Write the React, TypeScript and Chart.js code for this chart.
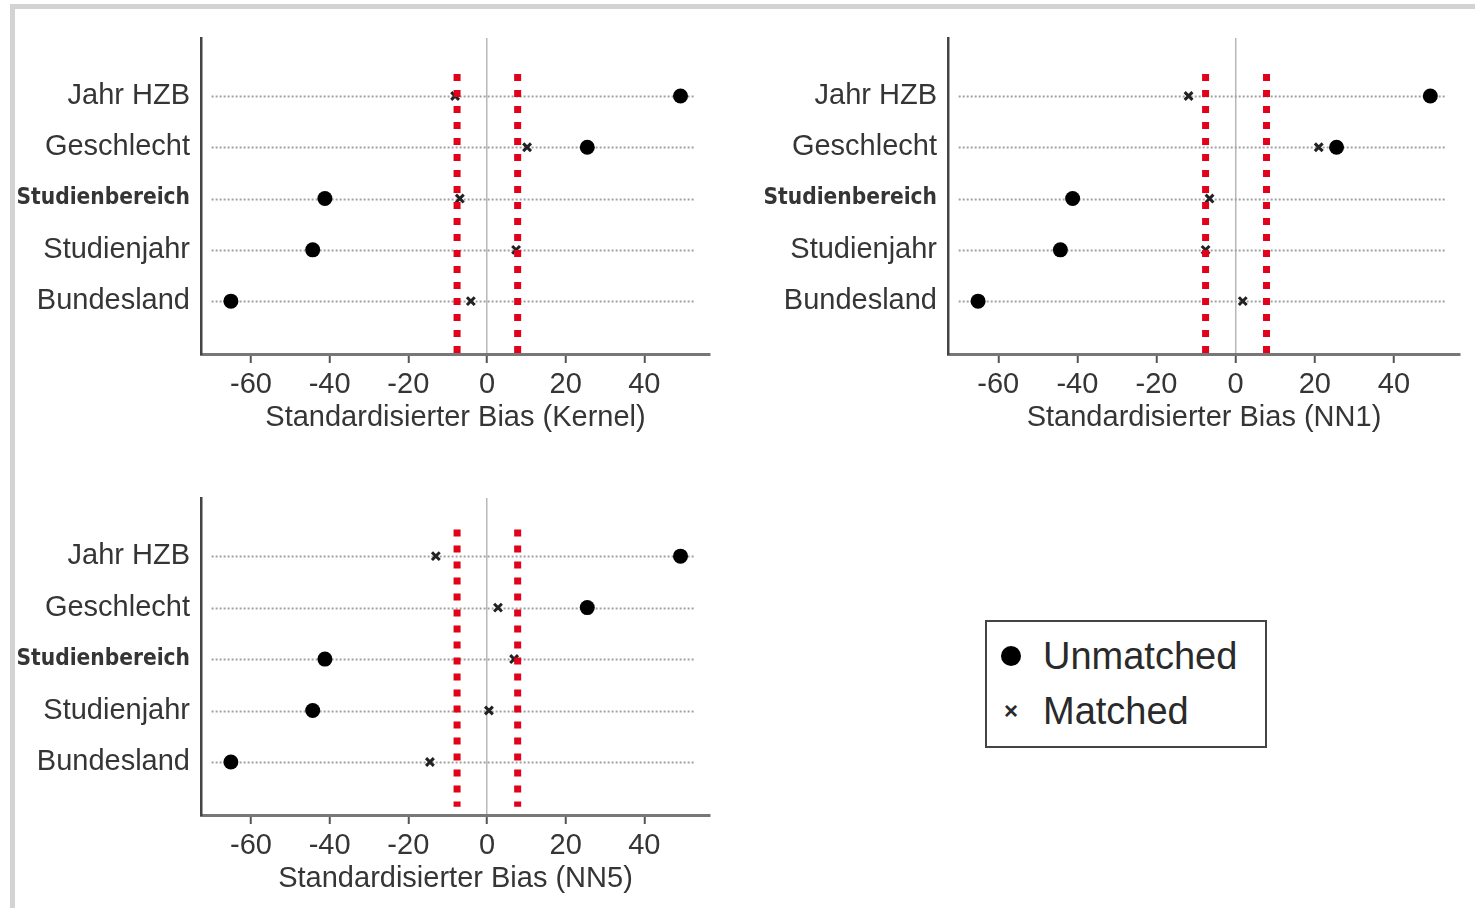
import React, { useEffect, useRef } from 'react';
import { Chart, registerables } from 'chart.js';

Chart.register(...registerables);

const categories = ['Jahr HZB', 'Geschlecht', 'Studienbereich', 'Studienjahr', 'Bundesland'];
const unmatchedBias = [49.2, 25.5, -41.2, -44.3, -65.1];
const matchedKernel = [-8.1, 10.2, -6.9, 7.4, -4.1];
const matchedNN1 = [-11.9, 21.0, -6.6, -7.6, 1.8];
const matchedNN5 = [-13.0, 2.8, 6.9, 0.5, -14.5];
const thresholds = [-7.6, 7.8];
const xTickValues = [-60, -40, -20, 0, 20, 40];
const guideRange = [-70, 53];
const legendLabels = ['Unmatched', 'Matched'];
const axisTitles = ['Standardisierter Bias (Kernel)', 'Standardisierter Bias (NN1)', 'Standardisierter Bias (NN5)'];

const FONT = '"Liberation Sans", Arial, Helvetica, sans-serif';
const TEXT = '#353535';

type Panel = {
  title: string;
  matched: number[];
  left: number;
  top: number;
  right: number;
  bottom: number;
  redTop: number;
  redBottom: number | null;
};

const panels: Panel[] = [
  { title: axisTitles[0], matched: matchedKernel, left: 201, top: 38, right: 710, bottom: 354, redTop: -0.43, redBottom: null },
  { title: axisTitles[1], matched: matchedNN1, left: 948, top: 38, right: 1460, bottom: 354, redTop: -0.43, redBottom: null },
  { title: axisTitles[2], matched: matchedNN5, left: 201, top: 498, right: 710, bottom: 815, redTop: -0.52, redBottom: 4.87 },
];

const PAD_LEFT = 200;
const PAD_TOP = 30;
const PAD_RIGHT = 12;
const X_AXIS_H = 81;

function PanelChart({ p }: { p: Panel }) {
  const ref = useRef<HTMLCanvasElement | null>(null);
  const w = p.right - p.left + PAD_LEFT + PAD_RIGHT;
  const h = p.bottom - p.top + PAD_TOP + X_AXIS_H;

  useEffect(() => {
    if (!ref.current) return;
    const overlay = {
      id: 'overlay',
      beforeDatasetsDraw(chart: any) {
        const { ctx, scales } = chart;
        const x = scales.x;
        const y = scales.y;
        ctx.save();
        ctx.strokeStyle = '#a0a0a0';
        ctx.lineWidth = 2;
        ctx.setLineDash([2, 2]);
        categories.forEach((_, i) => {
          const py = Math.round(y.getPixelForValue(i)) + 0.5;
          ctx.beginPath();
          ctx.moveTo(x.getPixelForValue(guideRange[0]), py);
          ctx.lineTo(x.getPixelForValue(guideRange[1]), py);
          ctx.stroke();
        });
        ctx.restore();
      },
      afterDatasetsDraw(chart: any) {
        const { ctx, scales, chartArea } = chart;
        const x = scales.x;
        const y = scales.y;
        ctx.save();
        ctx.strokeStyle = '#e2001a';
        ctx.lineWidth = 7;
        ctx.setLineDash([7, 9]);
        const y0 = y.getPixelForValue(p.redTop);
        const y1 = p.redBottom === null ? chartArea.bottom : y.getPixelForValue(p.redBottom);
        thresholds.forEach((t) => {
          const px = x.getPixelForValue(t);
          ctx.beginPath();
          ctx.moveTo(px, y0);
          ctx.lineTo(px, y1);
          ctx.stroke();
        });
        ctx.restore();
      },
    };

    const chart = new Chart(ref.current, {
      type: 'scatter',
      data: {
        datasets: [
          {
            label: legendLabels[0],
            data: unmatchedBias.map((v, i) => ({ x: v, y: i })),
            pointStyle: 'circle',
            pointRadius: 7.5,
            backgroundColor: '#000',
            borderColor: '#000',
            borderWidth: 0,
          },
          {
            label: legendLabels[1],
            data: p.matched.map((v, i) => ({ x: v, y: i })),
            pointStyle: 'crossRot',
            pointRadius: 5.5,
            borderWidth: 3,
            borderColor: '#222',
            backgroundColor: '#222',
          },
        ],
      },
      options: {
        animation: false,
        responsive: false,
        maintainAspectRatio: false,
        events: [],
        layout: { padding: { top: PAD_TOP, right: PAD_RIGHT, left: 0, bottom: 0 } },
        plugins: { legend: { display: false }, tooltip: { enabled: false } },
        scales: {
          x: {
            type: 'linear',
            min: -72.7,
            max: 56.7,
            afterBuildTicks: (s: any) => {
              s.ticks = xTickValues.map((v) => ({ value: v }));
            },
            afterFit: (s: any) => {
              s.height = X_AXIS_H;
            },
            grid: {
              display: true,
              drawOnChartArea: true,
              drawTicks: true,
              tickLength: 9,
              tickWidth: 2,
              tickColor: '#555',
              lineWidth: 1.5,
              color: (c: any) => (c.tick && c.tick.value === 0 ? '#b8b8b8' : 'rgba(0,0,0,0)'),
            },
            border: { display: true, color: '#777', width: 3 },
            ticks: {
              color: TEXT,
              padding: 5,
              font: { family: FONT, size: 29 },
              callback: (v: any) => String(v),
              maxRotation: 0,
            },
            title: {
              display: true,
              text: p.title,
              color: TEXT,
              font: { family: FONT, size: 29, lineHeight: 1.2 },
              padding: { top: 0, bottom: 0 },
            },
          },
          y: {
            type: 'linear',
            reverse: true,
            min: -1.13,
            max: 5.03,
            afterBuildTicks: (s: any) => {
              s.ticks = categories.map((_, i) => ({ value: i }));
            },
            afterFit: (s: any) => {
              s.width = PAD_LEFT;
            },
            grid: { display: false, drawTicks: false },
            border: { display: true, color: '#444', width: 2.5 },
            ticks: {
              color: TEXT,
              padding: 11,
              callback: (v: any) => categories[v] ?? '',
              font: (c: any) =>
                c.tick && categories[c.tick.value] === 'Studienbereich'
                  ? { family: '"DejaVu Sans Condensed", "DejaVu Sans", sans-serif', size: 22.5, weight: 'bold' }
                  : { family: FONT, size: 29 },
            },
          },
        },
      },
      plugins: [overlay],
    } as any);
    return () => chart.destroy();
  }, [p]);

  return (
    <canvas
      ref={ref}
      width={w}
      height={h}
      style={{ position: 'absolute', left: p.left - PAD_LEFT, top: p.top - PAD_TOP, width: w, height: h }}
    />
  );
}

export default function App() {
  return (
    <div
      style={{
        position: 'fixed',
        left: 0,
        top: 0,
        width: 1475,
        height: 908,
        overflow: 'hidden',
        background: '#fff',
      }}
    >
      <div
        style={{
          position: 'absolute',
          left: 10,
          top: 4,
          width: 1475,
          height: 908,
          boxSizing: 'border-box',
          borderTop: '5px solid #d3d3d3',
          borderLeft: '5px solid #d3d3d3',
        }}
      />
      {panels.map((p, i) => (
        <PanelChart key={i} p={p} />
      ))}
      <div
        style={{
          position: 'absolute',
          left: 985,
          top: 620,
          width: 282,
          height: 128,
          boxSizing: 'border-box',
          border: '2px solid #444',
          background: '#fff',
          fontFamily: FONT,
          color: '#2a2a2a',
        }}
      >
        <div
          style={{
            position: 'absolute',
            left: 14,
            top: 24,
            width: 20,
            height: 20,
            borderRadius: '50%',
            background: '#000',
          }}
        />
        <div style={{ position: 'absolute', left: 56, top: 12, fontSize: 38, lineHeight: '44px', whiteSpace: 'nowrap' }}>
          {legendLabels[0]}
        </div>
        <div
          style={{
            position: 'absolute',
            left: 14,
            top: 77,
            width: 20,
            lineHeight: '24px',
            fontSize: 24,
            fontWeight: 'bold',
            textAlign: 'center',
          }}
        >
          ×
        </div>
        <div style={{ position: 'absolute', left: 56, top: 67, fontSize: 38, lineHeight: '44px', whiteSpace: 'nowrap' }}>
          {legendLabels[1]}
        </div>
      </div>
    </div>
  );
}
